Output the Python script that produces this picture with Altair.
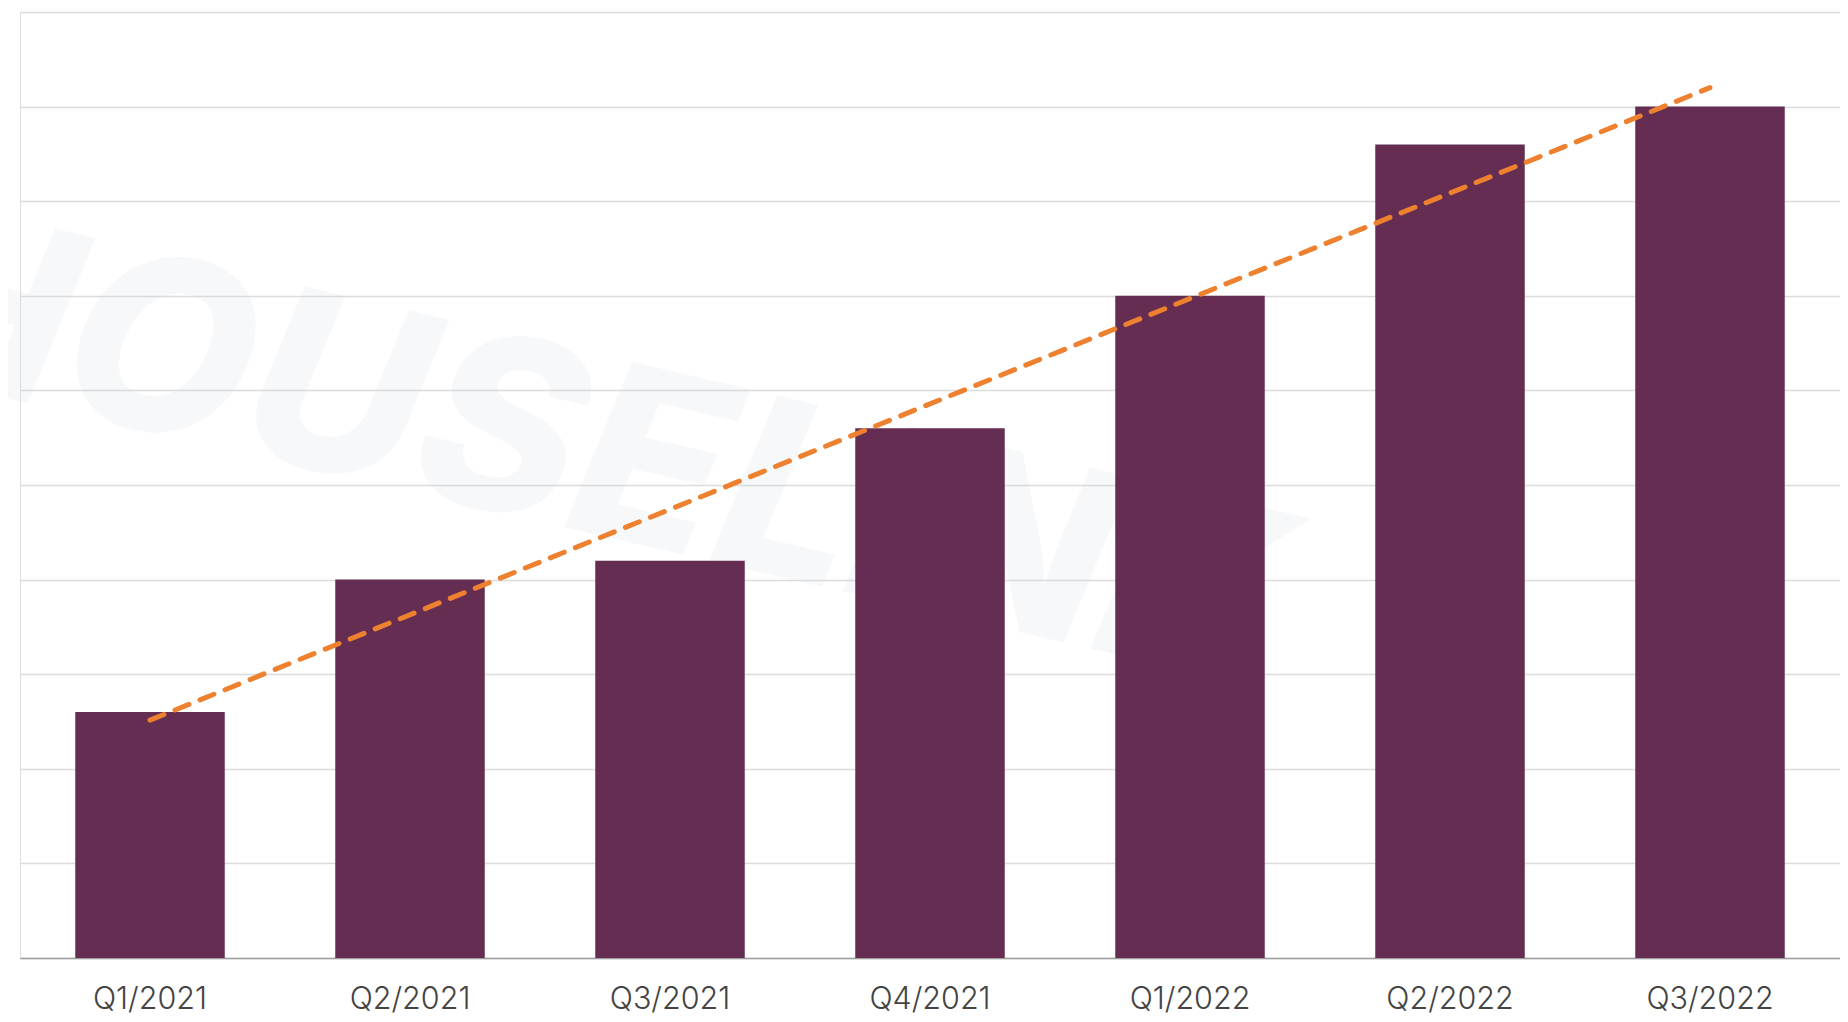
import altair as alt
import pandas as pd

quarters = ["Q1/2021", "Q2/2021", "Q3/2021", "Q4/2021", "Q1/2022", "Q2/2022", "Q3/2022"]
values = [2.6, 4.0, 4.2, 5.6, 7.0, 8.6, 9.0]
positions = [0, 1, 2, 3, 4, 5, 6]
grid_values = [0, 1, 2, 3, 4, 5, 6, 7, 8, 9, 10]
watermark_text = ["HOUSELINK"]

df = pd.DataFrame({"quarter": quarters, "value": values, "idx": positions})
wm = pd.DataFrame({"t": watermark_text})

W, H = 1820, 946

watermark = alt.Chart(wm).mark_text(
    font="Inter", fontSize=242, fontWeight=800, fontStyle="italic",
    angle=13, align="center", baseline="middle", color="#c8d2dc", opacity=0.14,
).encode(text="t:N", x=alt.value(565), y=alt.value(445))

bars = alt.Chart(df).mark_bar(color="#652D52").encode(
    x=alt.X("quarter:N", sort=quarters,
            scale=alt.Scale(paddingInner=0.425, paddingOuter=0.2125),
            axis=alt.Axis(title=None, labelAngle=0, ticks=False, labelPadding=26,
                          labelFontSize=30.5, labelFont="Inter", labelFontWeight=300,
                          labelColor="#444444",
                          domainColor="#9e9e9e", domainWidth=1.5, grid=False)),
    y=alt.Y("value:Q", scale=alt.Scale(domain=[0, 10], nice=False),
            axis=alt.Axis(title=None, labels=False, ticks=False, domain=False,
                          values=grid_values, gridColor="#dcdcdc", gridWidth=1.5)),
)

trend = alt.Chart(df).transform_regression("idx", "value", method="linear").mark_line(
    color="#EE8130", strokeWidth=5, strokeDash=[15, 12], strokeCap="round",
).encode(
    x=alt.X("idx:Q", scale=alt.Scale(domain=[-0.5, 6.5], nice=False, zero=False), axis=None),
    y=alt.Y("value:Q"),
)

chart = alt.layer(watermark, bars, trend).resolve_scale(x="independent").properties(
    width=W, height=H,
    padding={"left": 12, "top": 4, "right": 0, "bottom": 64},
    autosize="none",
).configure_view(stroke=None).configure(background="white")

chart.save("out.html", embed_options={"renderer": "svg", "actions": False})
